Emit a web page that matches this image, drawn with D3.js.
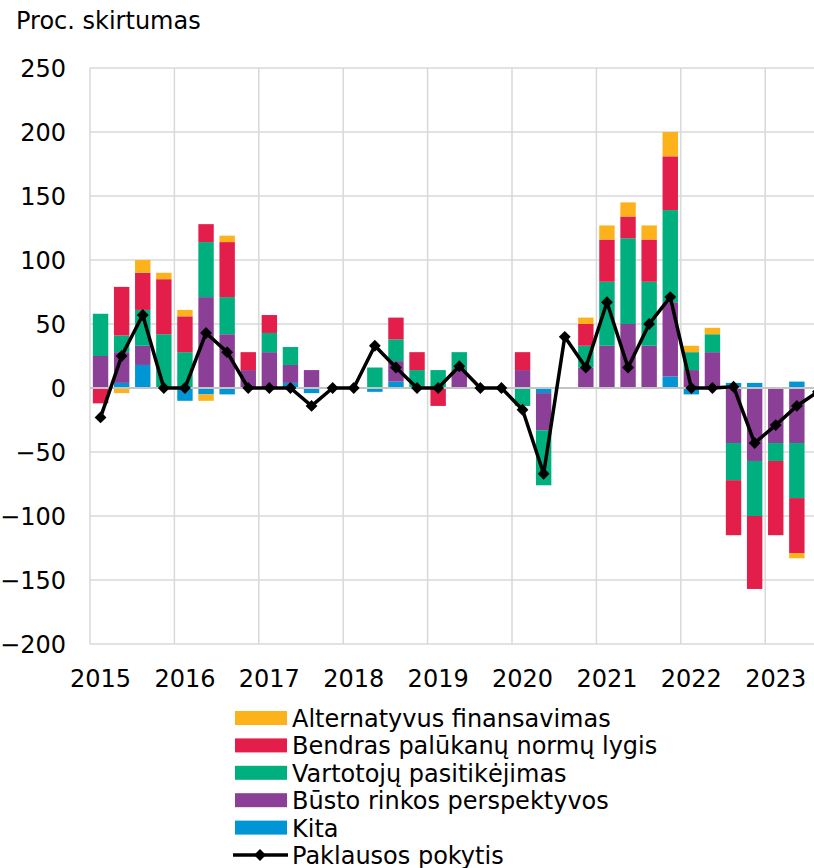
<!DOCTYPE html>
<html>
<head>
<meta charset="utf-8">
<script src="https://cdn.jsdelivr.net/npm/d3@7"></script>
<style>
  body { margin: 0; background: #fff; }
  svg text { font-family: "DejaVu Sans", Verdana, sans-serif; fill: #000; }
</style>
</head>
<body>
<div id="chart"></div>
<script>
// quarters 2015 Q1 .. 2023 Q4 (chart is cut at the right edge)
var years = [2015, 2016, 2017, 2018, 2019, 2020, 2021, 2022, 2023];
var quarters = [];
years.forEach(function(y) { for (var q = 1; q <= 4; q++) quarters.push(y + "Q" + q); });

// stacked components, one value per quarter (2015Q1..2023Q2)
var kita =        [0, 4, 18, 0, -10, -5, -5, 0, 0, 4, -4, 0, 0, -3, 5, 0, 0, 0, 0, 0, 0, -4, 0, 0, 0, 0, 0, 9, -5, 0, 4, 4, 0, 5];
var busto =       [25, 24, 15, 0, 0, 71, 42, 14, 28, 14, 14, 0, 0, 0, 16, 0, 0, 14, 0, 0, 14, -29, 0, 16, 33, 50, 33, 58, 14, 28, -43, -57, -43, -43];
var vartotoju =   [33, 13, 28, 42, 28, 43, 29, 0, 15, 14, 0, 0, 0, 16, 17, 14, 14, 14, 0, 0, -14, -43, 0, 17, 50, 67, 50, 72, 14, 14, -29, -43, -14, -43];
var bendras =     [-12, 38, 29, 43, 28, 14, 43, 14, 14, 0, 0, 0, 0, 0, 17, 14, -14, 0, 0, 0, 14, 0, 0, 17, 33, 17, 33, 42, 0, 0, -43, -57, -58, -43];
var alternatyvus = [0, -4, 10, 5, 5, -5, 5, 0, 0, 0, 0, 0, 0, 0, 0, 0, 0, 0, 0, 0, 0, 0, 0, 5, 11, 11, 11, 19, 5, 5, 0, 0, 0, -4];
// demand change line (2015Q1..2023Q3)
var paklausa = [-23, 25, 57, 0, 0, 43, 28, 0, 0, 0, -14, 0, 0, 33, 16, 0, 0, 17, 0, 0, -17, -67, 40, 16, 67, 16, 50, 71, 0, 0, 1, -43, -29, -14, -3];

var yTicks = [-200, -150, -100, -50, 0, 50, 100, 150, 200, 250];

var seriesKeys = ["kita", "busto", "vartotoju", "bendras", "alternatyvus"];
var seriesNames = {
  alternatyvus: "Alternatyvus finansavimas",
  bendras: "Bendras palūkanų normų lygis",
  vartotoju: "Vartotojų pasitikėjimas",
  busto: "Būsto rinkos perspektyvos",
  kita: "Kita"
};
var colors = {
  alternatyvus: "#fdb11b",
  bendras: "#e31e4b",
  vartotoju: "#00af7e",
  busto: "#8b3f97",
  kita: "#0096d6"
};
var lineName = "Paklausos pokytis";

var rows = kita.map(function(v, i) {
  return { q: quarters[i], kita: kita[i], busto: busto[i], vartotoju: vartotoju[i],
           bendras: bendras[i], alternatyvus: alternatyvus[i] };
});

var width = 814, height = 868;
var plotLeft = 90, plotTop = 68, plotBottom = 644;

var svg = d3.select("#chart").append("svg")
  .attr("width", width).attr("height", height);

var x = d3.scaleBand().domain(quarters)
  .range([plotLeft, plotLeft + 84.4 * years.length])
  .paddingInner(0.27).paddingOuter(0.135);
var step = x.step();
var cx = function(q) { return x(q) + x.bandwidth() / 2; };

var y = d3.scaleLinear().domain([-200, 250]).range([plotBottom, plotTop]);

// grid
var grid = svg.append("g").attr("class", "grid");
grid.selectAll(".hgrid").data(yTicks).enter().append("line")
  .attr("x1", plotLeft).attr("x2", width)
  .attr("y1", function(d) { return y(d); }).attr("y2", function(d) { return y(d); })
  .attr("stroke", "#d9d9d9").attr("stroke-width", 1.5);
grid.selectAll(".vgrid").data(years).enter().append("line")
  .attr("x1", function(d) { return cx(d + "Q1") - step / 2; })
  .attr("x2", function(d) { return cx(d + "Q1") - step / 2; })
  .attr("y1", plotTop).attr("y2", plotBottom)
  .attr("stroke", "#d9d9d9").attr("stroke-width", 1.5);

// stacked bars
var stack = d3.stack().keys(seriesKeys).offset(d3.stackOffsetDiverging);
var layers = stack(rows);

svg.append("g").selectAll("g").data(layers).enter().append("g")
  .attr("fill", function(d) { return colors[d.key]; })
  .selectAll("rect").data(function(d) { return d; }).enter().append("rect")
  .attr("x", function(d) { return x(d.data.q); })
  .attr("width", x.bandwidth())
  .attr("y", function(d) { return y(Math.max(d[0], d[1])); })
  .attr("height", function(d) { return Math.abs(y(d[0]) - y(d[1])); });

// zero line
svg.append("line")
  .attr("x1", plotLeft).attr("x2", width)
  .attr("y1", y(0)).attr("y2", y(0))
  .attr("stroke", "#c4c4c4").attr("stroke-width", 2);

// y axis labels
svg.append("g").selectAll("text").data(yTicks).enter().append("text")
  .attr("x", 66).attr("y", function(d) { return y(d); })
  .attr("dy", "0.36em")
  .attr("text-anchor", "end")
  .style("font-size", "24px")
  .text(function(d) { return d3.format("d")(d); });

// x axis labels
svg.append("g").selectAll("text").data(years).enter().append("text")
  .attr("x", function(d) { return cx(d + "Q1"); })
  .attr("y", 687)
  .attr("text-anchor", "middle")
  .style("font-size", "24px")
  .text(function(d) { return d; });

// demand line
var line = d3.line()
  .x(function(d, i) { return cx(quarters[i]); })
  .y(function(d) { return y(d); });

svg.append("path").datum(paklausa)
  .attr("d", line)
  .attr("fill", "none").attr("stroke", "#000").attr("stroke-width", 3.5)
  .attr("stroke-linejoin", "round");

var diamond = d3.symbol().type(d3.symbolSquare).size(70);
svg.append("g").selectAll("path").data(paklausa).enter().append("path")
  .attr("d", diamond)
  .attr("transform", function(d, i) { return "translate(" + cx(quarters[i]) + "," + y(d) + ") rotate(45)"; })
  .attr("fill", "#000");

// title
svg.append("text").attr("x", 16).attr("y", 29)
  .style("font-size", "24px")
  .text("Proc. skirtumas");

// legend
var legendKeys = ["alternatyvus", "bendras", "vartotoju", "busto", "kita"];
var legend = svg.append("g");
var ly0 = 718, ldy = 27.4;
legendKeys.forEach(function(k, i) {
  legend.append("rect")
    .attr("x", 235).attr("y", ly0 + i * ldy - 7)
    .attr("width", 52).attr("height", 14)
    .attr("fill", colors[k]);
  legend.append("text")
    .attr("x", 292).attr("y", ly0 + i * ldy + 9)
    .style("font-size", "24px")
    .text(seriesNames[k]);
});
var lly = ly0 + 5 * ldy;
legend.append("line")
  .attr("x1", 233).attr("x2", 288).attr("y1", lly).attr("y2", lly)
  .attr("stroke", "#000").attr("stroke-width", 3.5);
legend.append("path").attr("d", diamond)
  .attr("transform", "translate(260," + lly + ") rotate(45)")
  .attr("fill", "#000");
legend.append("text")
  .attr("x", 292).attr("y", lly + 9)
  .style("font-size", "24px")
  .text(lineName);
</script>
</body>
</html>
